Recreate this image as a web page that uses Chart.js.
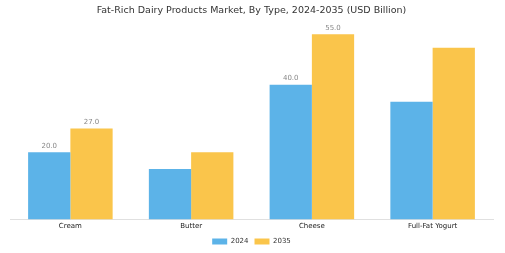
<!DOCTYPE html>
<html><head><meta charset="utf-8">
<script src="https://cdn.jsdelivr.net/npm/chart.js@4"></script>
<style>html,body{margin:0;padding:0;background:#fff}#w{width:505px;height:253px}</style>
</head><body><div id="w"><canvas id="c"></canvas></div>
<script>
const categories = ["Cream", "Butter", "Cheese", "Full-Fat Yogurt"];
const values2024 = [20, 15, 40, 35];
const values2035 = [27, 20, 55, 51];
const labeledIdx = [0, 2];

const labelPlugin = {
  id: 'lbl',
  afterDatasetsDraw(chart) {
    const ctx = chart.ctx;
    ctx.save();
    ctx.font = '7px "DejaVu Sans"';
    ctx.fillStyle = '#888';
    ctx.textAlign = 'center';
    ctx.textBaseline = 'bottom';
    chart.data.datasets.forEach((ds, di) => {
      const meta = chart.getDatasetMeta(di);
      labeledIdx.forEach(i => {
        const el = meta.data[i];
        ctx.fillText(ds.data[i].toFixed(1), el.x, el.y - 3);
      });
    });
    ctx.restore();
  }
};

new Chart(document.getElementById('c'), {
  type: 'bar',
  data: {
    labels: categories,
    datasets: [
      {label: '2024', data: values2024, backgroundColor: '#5cb3e8', categoryPercentage: 0.7, barPercentage: 1.0},
      {label: '2035', data: values2035, backgroundColor: '#fac54b', categoryPercentage: 0.7, barPercentage: 1.0}
    ]
  },
  options: {
    responsive: true, maintainAspectRatio: false, animation: false,
    layout: {padding: {left: 10, right: 12, top: 0, bottom: -2}},
    plugins: {
      title: {display: true, text: 'Fat-Rich Dairy Products Market, By Type, 2024-2035 (USD Billion)', color: '#333', font: {family: 'DejaVu Sans', size: 9.5, weight: 'normal'}, padding: {top: 5, bottom: 1}},
      legend: {position: 'bottom', labels: {boxWidth: 15, boxHeight: 6, color: '#333', font: {family: 'DejaVu Sans', size: 7}, padding: 6}},
      tooltip: {enabled: false}
    },
    scales: {
      x: {grid: {display: false, drawTicks: false, tickLength: 0}, border: {display: true, color: '#e0e0e0'}, ticks: {color: '#222', font: {family: 'DejaVu Sans', size: 7}, padding: 2}},
      y: {display: false, min: 0, max: 60}
    }
  },
  plugins: [labelPlugin]
});
</script></body></html>
